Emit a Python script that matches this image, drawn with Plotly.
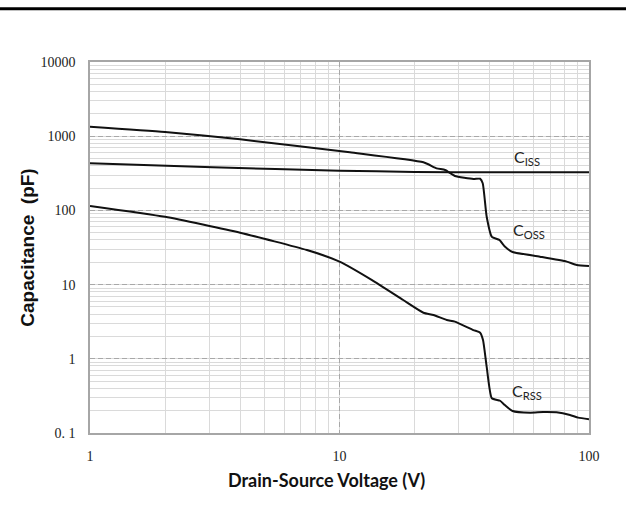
import math
import plotly.graph_objects as go

# Drain-Source Voltage (V) and capacitances (pF)
coss_v = [1, 2, 4, 11, 21.7, 24.5, 26.5, 29, 34.4, 36.6, 37.5, 38.9, 40.8, 43.7, 46.1, 49.4, 63.6, 81.4, 89.3, 100]
coss_c = [1343, 1140, 908, 607, 445, 369, 350, 291, 265, 267, 232, 82, 44, 40, 32.4, 27.5, 23.8, 20.4, 18.4, 17.8]

ciss_v = [1, 3.1, 10, 20, 40, 100]
ciss_c = [431, 381, 343, 330, 326, 326]

crss_v = [1, 2, 4, 7.4, 10, 13.5, 18, 21.7, 23.8, 26.9, 29, 34.4, 36.6, 37.6, 38.9, 40.8, 44, 46, 49.4, 58.1, 65.5, 74.1, 83.9, 90.5, 100]
crss_c = [115, 82, 50, 29.2, 20.4, 11.5, 6.2, 4.18, 3.89, 3.33, 3.17, 2.44, 2.25, 1.79, 0.78, 0.294, 0.272, 0.238, 0.198, 0.188, 0.192, 0.19, 0.175, 0.161, 0.153]

y_tickvals = [0.1, 1, 10, 100, 1000, 10000]
y_ticktext = ["0. 1", "1", "10", "100", "1000", "10000"]
x_tickvals = [1, 10, 100]
x_ticktext = ["1", "10", "100"]

# curve labels: (V, pF, text)
labels = [(56.5, 510, "C<sub>ISS</sub>"), (57.5, 54, "C<sub>OSS</sub>"), (56.5, 0.357, "C<sub>RSS</sub>")]

line_style = dict(color="#111111", width=2, shape="spline", smoothing=0.5)

fig = go.Figure()
for v, c, name in [(coss_v, coss_c, "Coss"), (ciss_v, ciss_c, "Ciss"), (crss_v, crss_c, "Crss")]:
    fig.add_trace(go.Scatter(x=v, y=c, mode="lines", line=line_style, name=name,
                             showlegend=False, hoverinfo="skip"))

tick_font = dict(family="Liberation Serif", size=14, color="#222222")
major_grid = dict(showgrid=True, gridcolor="#a8a8a8", gridwidth=1, griddash="5px,3px")
minor_grid = dict(showgrid=True, gridcolor="#dadada", gridwidth=1, griddash="solid", dtick="D1", ticks="")

fig.update_xaxes(type="log", range=[0, 2], tickvals=x_tickvals, ticktext=x_ticktext,
                 tickfont=tick_font, ticks="", ticklabelstandoff=9,
                 showline=True, linecolor="#a6a6a6", linewidth=1.5, mirror=True,
                 minor=minor_grid, zeroline=False, **major_grid)
fig.update_yaxes(type="log", range=[-1, 4], tickvals=y_tickvals, ticktext=y_ticktext,
                 tickfont=tick_font, ticks="", ticklabelstandoff=10,
                 showline=True, linecolor="#a6a6a6", linewidth=1.5, mirror=True,
                 minor=minor_grid, zeroline=False,
                 title=dict(text="<b>Capacitance  (pF)</b>",
                            font=dict(family="Liberation Sans", size=19, color="#111111"),
                            standoff=1),
                 **major_grid)

# x-axis title (slightly left of the plot centre, as in the reference)
fig.add_annotation(x=0.474, y=-0.128, xref="paper", yref="paper", text="<b>Drain-Source Voltage (V)</b>",
                   showarrow=False, xanchor="center", yanchor="middle",
                   font=dict(family="Lato", size=18, color="#111111"))

ann_font = dict(family="Lato", size=16, color="#222222")
for v, c, t in labels:
    fig.add_annotation(x=math.log10(v), y=math.log10(c), xref="x", yref="y",
                       text=t, showarrow=False, font=ann_font)

# rule at the top of the page
fig.add_shape(type="line", xref="paper", yref="paper", x0=-0.2, x1=1.1, y0=1.1437, y1=1.1437,
              line=dict(color="black", width=3))

fig.update_layout(width=626, height=505, margin=dict(l=90, r=37, t=62, b=72),
                  plot_bgcolor="white", paper_bgcolor="white", showlegend=False)

fig.write_html("out.html")
